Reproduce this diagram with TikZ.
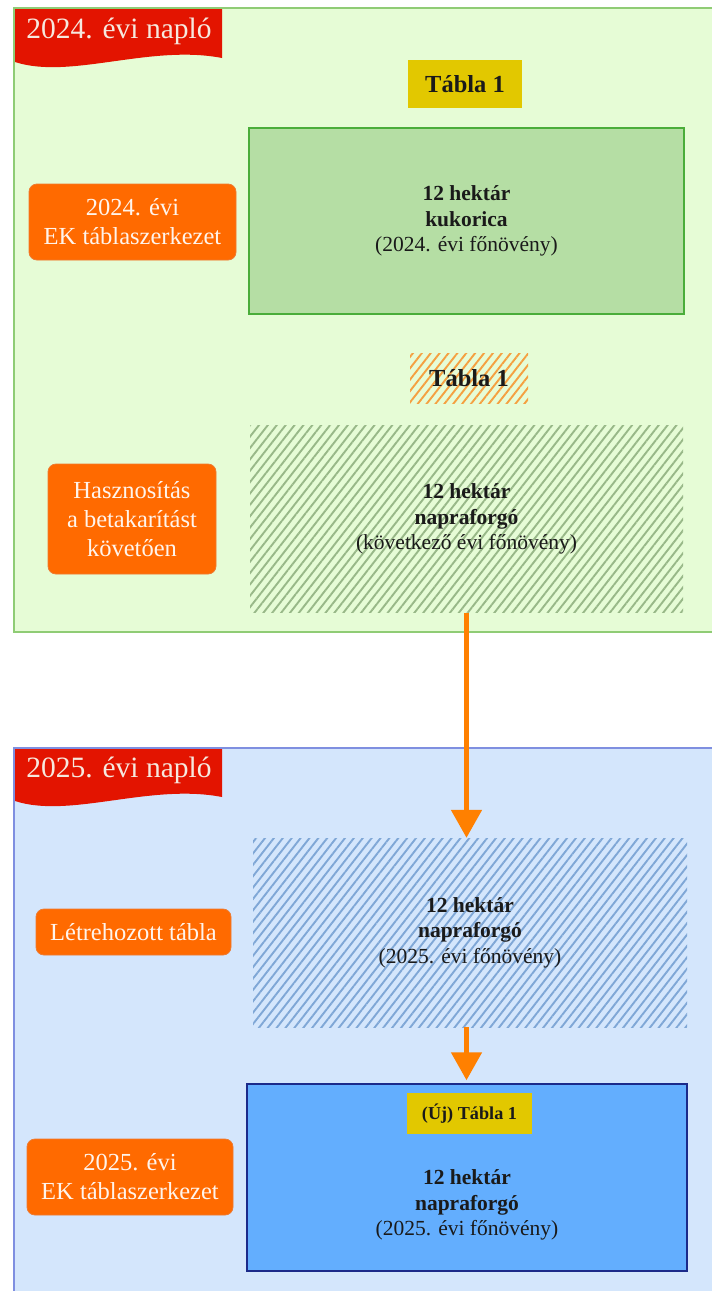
\documentclass[tikz,border=0pt]{standalone}
\usepackage{fontspec}
\setmainfont{Liberation Serif}
\usetikzlibrary{arrows.meta,patterns.meta}
\definecolor{gpanelfill}{HTML}{E6FCD6}
\definecolor{gpanelline}{HTML}{8FCC75}
\definecolor{bpanelfill}{HTML}{D4E6FC}
\definecolor{bpanelline}{HTML}{7F8FE0}
\definecolor{bannerred}{HTML}{E31400}
\definecolor{bannertext}{HTML}{F6E8DE}
\definecolor{lblorange}{HTML}{FF6A00}
\definecolor{lblline}{HTML}{EE7A30}
\definecolor{lbltext}{HTML}{FFF4EC}
\definecolor{tyellow}{HTML}{E2C800}
\definecolor{gboxfill}{HTML}{B5DEA4}
\definecolor{gboxline}{HTML}{4AAD3A}
\definecolor{hatchgreen}{HTML}{98B888}
\definecolor{hatchblue}{HTML}{7FA7D6}
\definecolor{hatchorange}{HTML}{F5A040}
\definecolor{bboxfill}{HTML}{63AEFE}
\definecolor{bboxline}{HTML}{1B2A8A}
\definecolor{arrorange}{HTML}{FF8000}
\definecolor{bodytext}{HTML}{1A1A1A}
\begin{document}
\begin{tikzpicture}[x=1pt,y=-1pt,
  lbl/.style={rounded corners=8pt, fill=lblorange, draw=lblline, line width=0.8pt,
    text=lbltext, font=\fontsize{24.5}{29}\selectfont, align=center, inner sep=0pt},
  yellowtag/.style={fill=tyellow, text=bodytext, font=\bfseries\fontsize{24.5}{29}\selectfont, inner sep=0pt},
  hatchbox/.style={pattern={Lines[angle=52,distance=7pt,line width=1.9pt]}, inner sep=0pt,
    text=bodytext, align=center, font=\fontsize{21.5}{25.5}\selectfont},
  plainbox/.style={inner sep=0pt, text=bodytext, align=center, font=\fontsize{21.5}{25.5}\selectfont},
  banner/.style={text=bannertext, font=\fontsize{29.5}{32}\selectfont, inner sep=0pt},
  arr/.style={draw=arrorange, line width=5pt, -{Triangle[width=30pt,length=28pt]}}
]
\useasboundingbox (0,0) rectangle (712,1291);
\fill[white] (0,0) rectangle (712,1291);
% panels
\draw[fill=gpanelfill, draw=gpanelline, line width=2pt] (14,8) rectangle (724,632);
\draw[fill=bpanelfill, draw=bpanelline, line width=2pt] (14,748) rectangle (724,1304);
% banners
\fill[bannerred] (15,9) -- (222,9) -- (222,58) .. controls (150,44) and (70,80) .. (15,62) -- cycle;
\node[banner] (ban1) at (119,31) {2024. évi napló};
\fill[bannerred] (15,749) -- (222,749) -- (222,797) .. controls (150,783) and (70,819) .. (15,801) -- cycle;
\node[banner] (ban2) at (119,770) {2025. évi napló};
% 2024 section
\node[yellowtag, minimum width=114pt, minimum height=48pt] (t1) at (465,84) {Tábla 1};
\node[plainbox, fill=gboxfill, draw=gboxline, line width=1.5pt, minimum width=435pt, minimum height=186pt] (gbox) at (466.5,221)
  {\textbf{12 hektár}\\\textbf{kukorica}\\(2024. évi főnövény)};
\node[lbl, minimum width=207pt, minimum height=76pt] (l1) at (132.5,222) {2024. évi\\EK táblaszerkezet};
\node[hatchbox, pattern color=hatchorange, font=\bfseries\fontsize{24.5}{29}\selectfont, minimum width=118pt, minimum height=50pt] (t1h) at (469,378) {Tábla 1};
\node[hatchbox, pattern color=hatchgreen, minimum width=433pt, minimum height=187pt] (hg) at (466.5,519)
  {\textbf{12 hektár}\\\textbf{napraforgó}\\(következő évi főnövény)};
\node[lbl, minimum width=168pt, minimum height=110pt] (l2) at (132,519) {Hasznosítás\\a betakarítást\\követően};
% 2025 section
\node[hatchbox, pattern color=hatchblue, minimum width=434pt, minimum height=189pt] (hb) at (470,932.5)
  {\textbf{12 hektár}\\\textbf{napraforgó}\\(2025. évi főnövény)};
\node[lbl, minimum width=195pt, minimum height=46pt] (l3) at (133.5,932) {Létrehozott tábla};
\node[fill=bboxfill, draw=bboxline, line width=1.5pt, minimum width=440pt, minimum height=187pt, inner sep=0pt] (bb) at (467,1177.5) {};
\node[yellowtag, font=\bfseries\fontsize{18.2}{22}\selectfont, minimum width=125pt, minimum height=41pt] (nt) at (469.5,1113.5) {(Új) Tábla 1};
\node[plainbox] (bbtext) at (467,1205) {\textbf{12 hektár}\\\textbf{napraforgó}\\(2025. évi főnövény)};
\node[lbl, minimum width=206pt, minimum height=76pt] (l4) at (130,1177) {2025. évi\\EK táblaszerkezet};
% arrows
\draw[arr] (hg.south) -- (hg.south |- hb.north);
\draw[arr] (hb.south -| hg.south) -- ([yshift=3pt]hg.south |- bb.north);
\end{tikzpicture}
\end{document}
